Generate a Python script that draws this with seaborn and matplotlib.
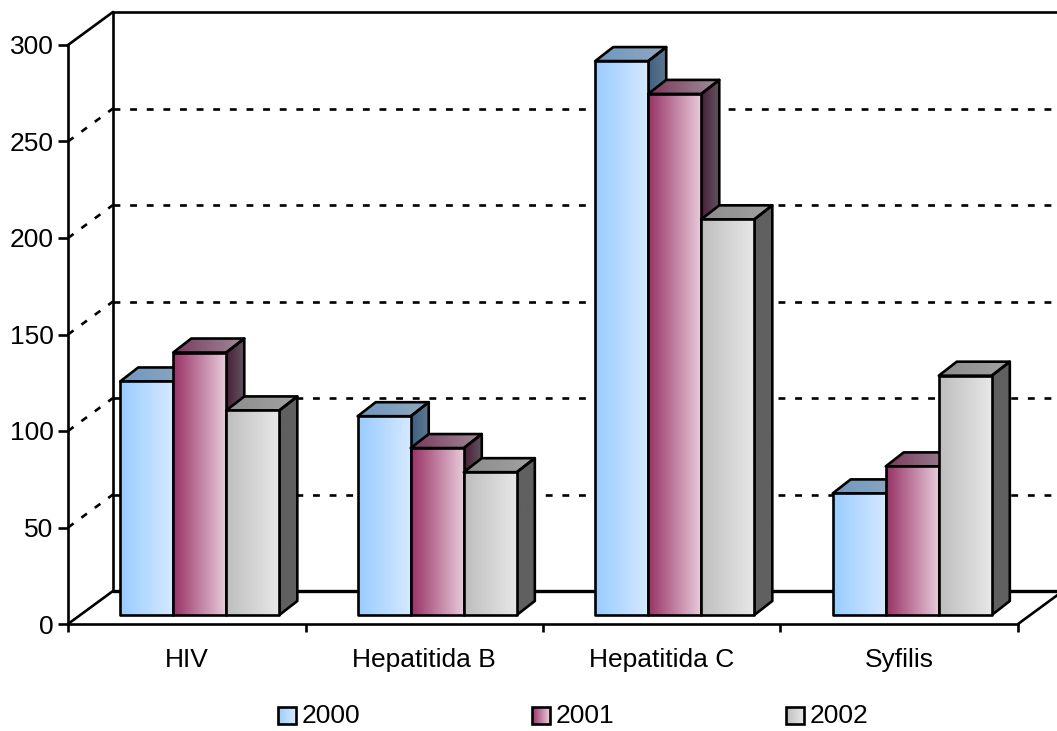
import numpy as np
import pandas as pd
import seaborn as sns
import matplotlib.pyplot as plt
from matplotlib.colors import LinearSegmentedColormap
from matplotlib.patches import Polygon, Rectangle

# Values
categories = ["HIV", "Hepatitida B", "Hepatitida C", "Syfilis"]
years = ["2000", "2001", "2002"]
values_2000 = [121, 103, 287, 63]
values_2001 = [136, 86.5, 270, 77]
values_2002 = [106, 74, 205, 124]
y_ticks = [0, 50, 100, 150, 200, 250, 300]

# left/right colours of the front, top and side faces per year
front_colors = [("#99CCFF", "#D6E9FF"), ("#993366", "#E8CCDB"), ("#BEBEBE", "#E8E8E8")]
top_colors = [("#7097BF", "#90A8C0"), ("#7A3A5C", "#A08C9A"), ("#8C8C8C", "#A2A2A2")]
side_colors = [("#3F6080", "#5F7890"), ("#4A1E36", "#605560"), ("#606060", "#606060")]

sns.set_theme(style="white")
plt.rcParams["font.family"] = ["Liberation Sans", "DejaVu Sans"]

# front plane of the chart in pixels
LEFT, RIGHT, TOP, BOTTOM = 68, 1018, 45, 624
W, H = 1057, 731
PX_X = 4 / (RIGHT - LEFT)
PX_Y = 300 / (BOTTOM - TOP)
LW = 1.9

df = pd.DataFrame({
    "category": categories * 3,
    "year": [y for y in years for _ in categories],
    "value": values_2000 + values_2001 + values_2002,
})

fig = plt.figure(figsize=(W / 100, H / 100), dpi=100)
ax = fig.add_axes([LEFT / W, 1 - BOTTOM / H, (RIGHT - LEFT) / W, (BOTTOM - TOP) / H])
ax.patch.set_alpha(0)

sns.barplot(data=df, x="category", y="value", hue="year", hue_order=years,
            palette=[c[0] for c in front_colors], saturation=1, width=0.67, gap=0,
            legend=False, ax=ax, zorder=3)


def gradient(colors, extent, zorder, clip=None):
    cmap = LinearSegmentedColormap.from_list("g", colors)
    img = ax.imshow(np.linspace(0, 1, 64).reshape(1, -1), cmap=cmap, extent=extent,
                    aspect="auto", zorder=zorder, interpolation="bilinear")
    if clip is not None:
        img.set_clip_path(clip)
    else:
        img.set_clip_on(False)
    return img


def face(points, colors, zorder):
    poly = Polygon(points, closed=True, fc="none", ec="black", lw=LW, joinstyle="round",
                   zorder=zorder + 0.1, clip_on=False)
    ax.add_patch(poly)
    xs, ys = zip(*points)
    gradient(colors, (min(xs), max(xs), min(ys), max(ys)), zorder, clip=poly)


# bars sit a little inside the floor and have their own depth
shift_x, shift_y = 13 * PX_X, 9 * PX_Y
depth_x, depth_y = 18 * PX_X, 14 * PX_Y

for i, container in enumerate(ax.containers):
    for bar in container:
        x0 = bar.get_x() + shift_x
        x1 = x0 + bar.get_width()
        y0 = shift_y
        y1 = y0 + bar.get_height()
        z = 3 + i
        bar.set_visible(False)
        face([(x1, y0), (x1 + depth_x, y0 + depth_y), (x1 + depth_x, y1 + depth_y), (x1, y1)],
             side_colors[i], z)
        face([(x0, y1), (x0 + depth_x, y1 + depth_y), (x1 + depth_x, y1 + depth_y), (x1, y1)],
             top_colors[i], z)
        face([(x0, y0), (x1, y0), (x1, y1), (x0, y1)], front_colors[i], z + 0.3)

# back wall, floor and grid
wall_x, wall_y = 45 * PX_X, 33 * PX_Y
x_min, x_max = -0.5, 3.5
far = x_max + wall_x
dash = (0, (2.6, 3.7))
line = dict(color="black", lw=LW, clip_on=False, zorder=1)
for t in y_ticks[1:-1]:
    ax.plot([x_min, x_min + wall_x], [t, t + wall_y], ls=dash, **line)
    ax.plot([x_min + wall_x, far], [t + wall_y, t + wall_y], ls=dash, **line)
ax.plot([x_min, x_min + wall_x], [300, 300 + wall_y], **line)
ax.plot([x_min + wall_x, far], [300 + wall_y, 300 + wall_y], **line)
ax.plot([x_min + wall_x, x_min + wall_x], [wall_y, 300 + wall_y], **line)
ax.plot([x_min, x_min + wall_x], [0, wall_y], **line)
ax.plot([x_max, far], [0, wall_y], **line)
ax.plot([x_min + wall_x, far], [wall_y, wall_y], color="black", lw=2.4, clip_on=False, zorder=1)

ax.set_xlim(x_min, x_max)
ax.set_ylim(0, 300)
ax.set_xlabel("")
ax.set_ylabel("")
ax.set_yticks(y_ticks)
ax.set_xticks(np.arange(5) - 0.5)
ax.set_xticklabels([])
ax.set_xticks(range(4), categories, minor=True)
ax.tick_params(axis="y", which="major", left=True, length=7, width=LW, color="black",
               pad=3.5, labelsize=19, labelcolor="black")
ax.tick_params(axis="x", which="major", bottom=True, length=6, width=LW, color="black")
ax.tick_params(axis="x", which="minor", bottom=False, length=0, pad=17, labelsize=19,
               labelcolor="black")
for side in ["top", "right"]:
    ax.spines[side].set_visible(False)
for side in ["left", "bottom"]:
    ax.spines[side].set_color("black")
    ax.spines[side].set_linewidth(LW)

# legend
legend_x = [278, 532, 786]
for year, colors, lx in zip(years, front_colors, legend_x):
    x0 = x_min + (lx - LEFT) * PX_X
    x1 = x0 + 18 * PX_X
    y0 = (BOTTOM - 724) * PX_Y
    y1 = (BOTTOM - 707) * PX_Y
    gradient(colors, (x0, x1, y0, y1), 5)
    ax.add_patch(Rectangle((x0, y0), x1 - x0, y1 - y0, fc="none", ec="black", lw=LW,
                           clip_on=False, zorder=6))
    ax.text(x1 + 6 * PX_X, (BOTTOM - 716) * PX_Y, year, fontsize=19, color="black",
            va="center", ha="left", clip_on=False)

ax.set_xlim(x_min, x_max)
ax.set_ylim(0, 300)

fig.savefig("out.png", dpi=100, facecolor="white")
